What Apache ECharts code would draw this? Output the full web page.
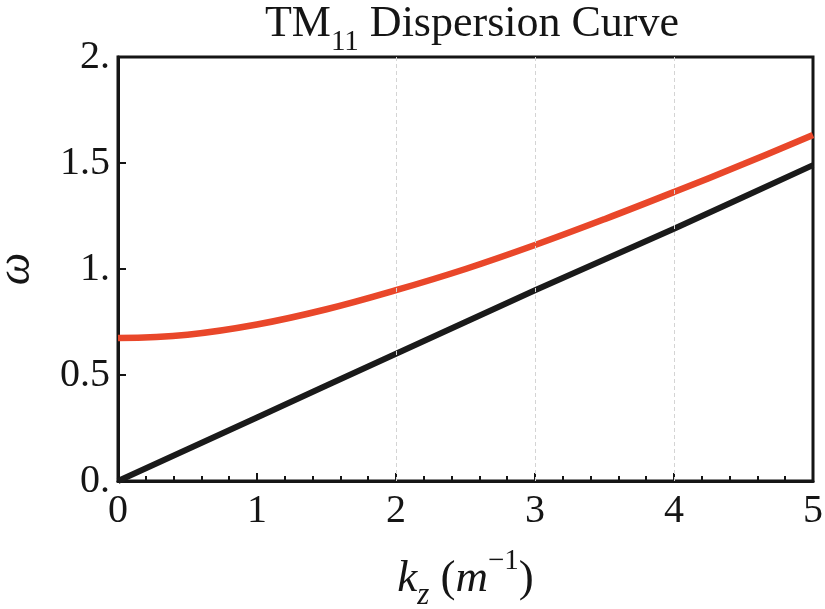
<!DOCTYPE html>
<html>
<head>
<meta charset="utf-8">
<title>TM11 Dispersion Curve</title>
<script src="https://cdn.jsdelivr.net/npm/echarts@6/dist/echarts.min.js"></script>
<style>
  html, body { margin: 0; padding: 0; background: #fff; }
  #chart { width: 825px; height: 609px; }
</style>
</head>
<body>
<div id="chart"></div>
<script>
// Wave number k_z (1/m)
const kz = [0, 0.5, 1, 1.5, 2, 2.5, 3, 3.5, 4, 4.5, 5];
// TM11 mode frequency
const omegaTM11 = [0.674, 0.69, 0.738, 0.81, 0.90, 1.00, 1.113, 1.235, 1.363, 1.495, 1.632];
// Light line
const omegaLight = [0, 0.15, 0.30, 0.45, 0.60, 0.75, 0.90, 1.045, 1.19, 1.34, 1.49];
// Vertical guide lines
const guideK = [2, 3, 4];
// Tick labels
const xTickLabels = ['0', '1', '2', '3', '4', '5'];
const yTickLabels = ['0.', '0.5', '1.', '1.5', '2.'];

const serif = '"Liberation Serif", "DejaVu Serif", serif';
const ink = '#151515';

const chart = echarts.init(document.getElementById('chart'), null, { renderer: 'canvas' });

chart.setOption({
  animation: false,
  backgroundColor: '#fff',
  title: {
    text: '{m|TM}{s|11}{m| Dispersion Curve}',
    left: 467,
    textAlign: 'center',
    top: -14,
    textStyle: {
      fontWeight: 'normal',
      rich: {
        m: { fontFamily: serif, fontSize: 44, fontWeight: 'normal', color: ink, lineHeight: 66 },
        s: { fontFamily: serif, fontSize: 29, fontWeight: 'normal', color: ink, lineHeight: 26, verticalAlign: 'bottom' }
      }
    }
  },
  grid: {
    left: 118, right: 12, top: 57, bottom: 128,
    outerBoundsMode: 'none', containLabel: false,
    show: true, borderColor: ink, borderWidth: 3, backgroundColor: 'transparent'
  },
  xAxis: {
    type: 'value', min: 0, max: 5, interval: 1,
    name: '{i|k}{s|z}{n| (}{i|m}{p|\u22121}{n|)}',
    nameLocation: 'middle', nameGap: 66,
    nameTextStyle: {
      rich: {
        i: { fontFamily: serif, fontStyle: 'italic', fontSize: 45, color: ink, lineHeight: 64 },
        n: { fontFamily: serif, fontSize: 45, color: ink, lineHeight: 64 },
        s: { fontFamily: serif, fontStyle: 'italic', fontSize: 31, color: ink, lineHeight: 32, verticalAlign: 'bottom' },
        p: { fontFamily: serif, fontSize: 29, color: ink, lineHeight: 46, verticalAlign: 'top' }
      }
    },
    axisLine: { show: true, onZero: false, lineStyle: { color: ink, width: 3 } },
    axisTick: { show: true, inside: true, length: 8, lineStyle: { color: ink, width: 2 } },
    minorTick: { show: true, splitNumber: 5, length: 5, lineStyle: { color: ink, width: 2 } },
    splitLine: { show: false },
    axisLabel: {
      margin: 10, fontFamily: serif, fontSize: 40, color: ink,
      formatter: (v) => xTickLabels[Math.round(v)]
    }
  },
  yAxis: {
    type: 'value', min: 0, max: 2, interval: 0.5,
    name: 'ω',
    nameLocation: 'middle', nameGap: 78, nameRotate: 90,
    nameTextStyle: { fontFamily: serif, fontStyle: 'italic', fontSize: 46, color: ink },
    axisLine: { show: true, onZero: false, lineStyle: { color: ink, width: 3 } },
    axisTick: { show: true, inside: true, length: 8, lineStyle: { color: ink, width: 2 } },
    splitLine: { show: false },
    axisLabel: {
      margin: 8, fontFamily: serif, fontSize: 40, color: ink,
      formatter: (v) => yTickLabels[Math.round(v / 0.5)]
    }
  },
  series: [
    {
      name: 'guides', type: 'line', data: [], z: 1, silent: true,
      markLine: {
        silent: true, symbol: 'none', label: { show: false },
        lineStyle: { color: '#d4d4d4', width: 1, type: [4, 3] },
        data: guideK.map((k) => ({ xAxis: k }))
      }
    },
    {
      name: 'light line', type: 'line', z: 3, showSymbol: false,
      data: kz.map((k, i) => [k, omegaLight[i]]),
      lineStyle: { color: '#1a1a1a', width: 6 }
    },
    {
      name: 'TM11', type: 'line', z: 4, showSymbol: false, smooth: 0.4,
      data: kz.map((k, i) => [k, omegaTM11[i]]),
      lineStyle: { color: '#e9472a', width: 6.5 }
    }
  ]
});
</script>
</body>
</html>
